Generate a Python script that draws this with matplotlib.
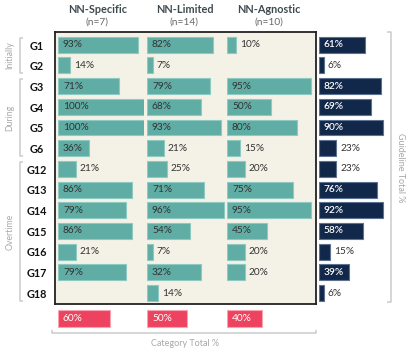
#!/usr/bin/env python3
"""
plot.py
--------------------------------------------------
Guideline coverage per NN category, with guideline and category totals.
Saves out.png (409x350 px).
"""

import matplotlib
matplotlib.use("Agg")
import matplotlib.pyplot as plt

# -----------------------------------------------------------------------------
# DATA
# -----------------------------------------------------------------------------
groups = ["G1", "G2", "G3", "G4", "G5", "G6", "G12",
          "G13", "G14", "G15", "G16", "G17", "G18"]
categories = ["NN-Specific", "NN-Limited", "NN-Agnostic"]
category_n = ["(n=7)", "(n=14)", "(n=10)"]

nn_specific = [93, 14, 71, 100, 100, 36, 21, 86, 79, 86, 21, 79, None]
nn_limited = [82, 7, 79, 68, 93, 21, 25, 71, 96, 54, 7, 32, 14]
nn_agnostic = [10, None, 95, 50, 80, 15, 20, 75, 95, 45, 20, 20, None]
guideline_total = [61, 6, 82, 69, 90, 23, 23, 76, 92, 58, 15, 39, 6]
category_total = [60, 50, 40]

# bar lengths as drawn (a few differ from their printed labels)
nn_limited_bar = [82, 7, 79, 68, 93, 21, 25, 71, 96, 54, 7, 68, 14]
guideline_bar = [61, 6, 82, 69, 84, 23, 23, 76, 84, 58, 15, 39, 6]

phases = ["Initially", "During", "Overtime"]
phase_rows = [(0, 1), (2, 5), (6, 12)]

# -----------------------------------------------------------------------------
# STYLE / LAYOUT (pixels)
# -----------------------------------------------------------------------------
W, H = 409, 350
FONT = ["Lato", "DejaVu Sans"]
TEAL, TEAL_EDGE = "#5fada4", "#8fcac2"
NAVY, NAVY_EDGE = "#12284a", "#5d7190"
RED, RED_EDGE = "#ee4360", "#f7a3b0"
CREAM = "#f4f1e6"
TXT = "#333333"
GREY = "#a8a8a8"

ROW0, ROW_STEP = 44.7, 20.7
COL_X = [58, 147, 227]
COL_W = [86, 80, 88]          # px for 100 %
NAVY_X, NAVY_W = 319, 76
BAR_H = 0.77
LABEL_FS = 7.3

plt.rcParams["font.family"] = FONT


def px_axes(fig, x, y, w, h):
    """Add axes from a pixel rect (top-left origin)."""
    ax = fig.add_axes([x / W, 1 - (y + h) / H, w / W, h / H])
    ax.set_axis_off()
    ax.patch.set_alpha(0)
    return ax


def px(x, y):
    return x / W, 1 - y / H


def bar_column(ax, values, lengths, color, edge, inside_color, weight="normal"):
    n = len(groups)
    ax.set_xlim(0, 100)
    ax.set_ylim(n - 0.5, -0.5)
    for i, (v, L) in enumerate(zip(values, lengths)):
        if v is None:
            continue
        ax.barh(i, L, height=BAR_H, color=color, edgecolor=edge, linewidth=0.8)
        if L >= 30:
            ax.annotate(f"{v}%", xy=(0, i), xytext=(3.6, 0),
                        textcoords="offset points", va="center", ha="left",
                        fontsize=LABEL_FS, color=inside_color,
                        fontweight=weight)
        else:
            ax.annotate(f"{v}%", xy=(L, i), xytext=(2.8, 0),
                        textcoords="offset points", va="center", ha="left",
                        fontsize=LABEL_FS, color=TXT)


fig = plt.figure(figsize=(W / 100, H / 100), dpi=100)

# main cream panel
box = fig.add_axes([55 / W, 1 - 304 / H, 261 / W, 272 / H])
box.set_facecolor(CREAM)
box.set_xticks([])
box.set_yticks([])
for s in box.spines.values():
    s.set_color("#222222")
    s.set_linewidth(1.3)

top = ROW0 - ROW_STEP / 2
height = ROW_STEP * len(groups)

series = [nn_specific, nn_limited, nn_agnostic]
lengths = [[v or 0 for v in nn_specific], nn_limited_bar,
           [v or 0 for v in nn_agnostic]]
for k in range(3):
    ax = px_axes(fig, COL_X[k], top, COL_W[k], height)
    bar_column(ax, series[k], lengths[k], TEAL, TEAL_EDGE, TXT)

# guideline totals
nav = px_axes(fig, NAVY_X, top, NAVY_W, height)
bar_column(nav, guideline_total, guideline_bar, NAVY, NAVY_EDGE, "white",
           weight="semibold")

# category totals
for k in range(3):
    ax = px_axes(fig, COL_X[k], 308, COL_W[k], 21)
    ax.set_xlim(0, 100)
    ax.set_ylim(-0.5, 0.5)
    ax.barh(0, category_total[k], height=0.82, color=RED,
            edgecolor=RED_EDGE, linewidth=0.8)
    ax.annotate(f"{category_total[k]}%", xy=(0, 0), xytext=(3.6, 0),
                textcoords="offset points", va="center", ha="left",
                fontsize=LABEL_FS, color="white")

# headers
header_x = [97.5, 184.5, 268.5]
for k in range(3):
    fig.text(*px(header_x[k], 9.5), categories[k], ha="center", va="center",
             fontsize=7.8, fontweight="bold", color="#3f4a50")
    fig.text(*px(header_x[k], 22.5), category_n[k], ha="center", va="center",
             fontsize=7.3, color="#666666")

# row labels
for i, g in enumerate(groups):
    fig.text(*px(36.5, ROW0 + 1.3 + i * ROW_STEP), g, ha="center",
             va="center", fontsize=7.8, fontweight="bold", color="#111111")

# overlay for brackets (figure pixel coords)
ov = fig.add_axes([0, 0, 1, 1])
ov.set_xlim(0, W)
ov.set_ylim(H, 0)
ov.set_axis_off()
ov.patch.set_alpha(0)
line_kw = dict(color="#cccccc", linewidth=1.1, solid_capstyle="butt")

for name, (r0, r1) in zip(phases, phase_rows):
    y0 = ROW0 + r0 * ROW_STEP - 7
    y1 = ROW0 + r1 * ROW_STEP + 8
    ov.plot([23, 20, 20, 23], [y0, y0, y1, y1], **line_kw)
    ov.text(10, (y0 + y1) / 2, name, rotation=90, ha="center", va="center",
            fontsize=6.3, color=GREY)

# guideline total bracket
ov.plot([387, 391, 391, 387], [32, 32, 302, 302], **line_kw)
ov.text(400, 168, "Guideline Total %", rotation=-90, ha="center",
        va="center", fontsize=6.5, color=GREY)

# category total bracket
ov.plot([52, 52, 316, 316], [329.5, 333, 333, 329.5], **line_kw)
ov.text(185, 343, "Category Total %", ha="center", va="center",
        fontsize=6.5, color=GREY)

fig.savefig("out.png", dpi=100)
